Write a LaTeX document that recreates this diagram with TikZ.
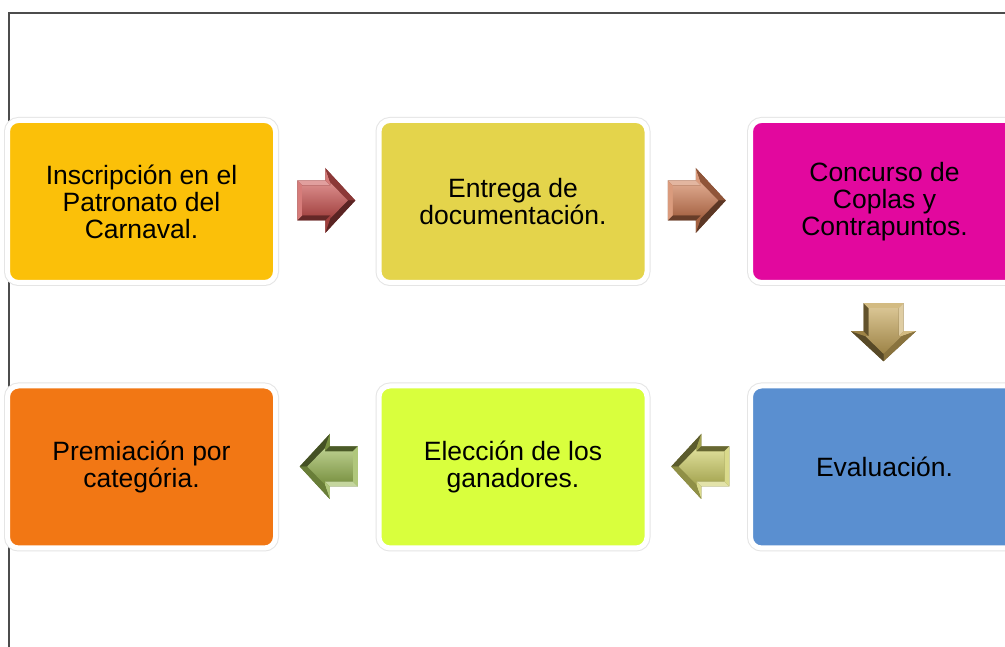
\documentclass[tikz,border=0pt]{standalone}
\usepackage{fontspec}
\setmainfont{Liberation Sans}
\usetikzlibrary{calc}
\definecolor{cA}{RGB}{251,192,9}
\definecolor{cB}{RGB}{228,212,75}
\definecolor{cC}{RGB}{226,8,158}
\definecolor{cD}{RGB}{90,143,208}
\definecolor{cE}{RGB}{217,255,61}
\definecolor{cF}{RGB}{242,119,20}
\definecolor{arA}{RGB}{200,80,78}
\definecolor{arB}{RGB}{205,122,82}
\definecolor{arC}{RGB}{196,164,88}
\definecolor{arD}{RGB}{150,180,80}
\definecolor{arE}{RGB}{205,205,100}
\newcommand{\bevarrow}[3]{%
\begin{scope}[shift={#1},rotate=#2]
\fill[#3!60!black] (-29,20)--(-1,20)--(-1,32.5)--(29,0)--(-1,-32.5)--(-1,-20)--(-29,-20)--cycle;
\fill[#3!55!white] (-29,20)--(-1,20)--(4,15)--(-24,15)--cycle;
\fill[#3!75!white] (-1,20)--(-1,32.5)--(4,18)--(4,15)--cycle;
\fill[#3!70!black] (-1,32.5)--(29,0)--(21.5,0)--(4,18)--cycle;
\fill[#3!45!black] (29,0)--(-1,-32.5)--(4,-18)--(21.5,0)--cycle;
\fill[#3!80!black] (-1,-32.5)--(-1,-20)--(4,-15)--(4,-18)--cycle;
\fill[#3!50!black] (-1,-20)--(-29,-20)--(-24,-15)--(4,-15)--cycle;
\fill[#3!75!white] (-29,-20)--(-29,20)--(-24,15)--(-24,-15)--cycle;
\shade[top color=#3!65!white, middle color=#3, bottom color=#3!80!black]
  (-24,15)--(4,15)--(4,18)--(21.5,0)--(4,-18)--(4,-15)--(-24,-15)--cycle;
\end{scope}}
\tikzset{
  procbox/.style={rectangle, rounded corners=11pt, minimum width=268pt, minimum height=162pt,
    draw=white, line width=5pt, preaction={draw=black!10, line width=7pt},
    align=center, font=\fontsize{26.5}{27}\selectfont, text=black, inner sep=0pt},
  framerule/.style={draw=black!70, line width=2pt}
}
\begin{document}
\begin{tikzpicture}[x=1pt,y=1pt]
\useasboundingbox (0,0) rectangle (1005,647);
\clip (0,0) rectangle (1005,647);
\fill[white] (0,0) rectangle (1005,647);
\coordinate (fc) at (8.5,633.5);
\coordinate (fr) at (1010,633.5);
\coordinate (fb) at (8.5,-5);
\draw[framerule] (fr) -- (fc) -- (fb);
% boxes
\node[procbox, fill=cA] (b1) at (141.5,445.5) {Inscripción en el\\Patronato del\\Carnaval.};
\node[procbox, fill=cB] (b2) at (513,445.5) {Entrega de\\documentación.};
\node[procbox, fill=cC] (b3) at (884.5,445.5) {Concurso de\\Coplas y\\Contrapuntos.};
\node[procbox, fill=cD] (b4) at (884.5,180) {Evaluación.};
\node[procbox, fill=cE] (b5) at (513,180) {Elección de los\\ganadores.};
\node[procbox, fill=cF] (b6) at (141.5,180) {Premiación por\\categória.};
% arrows
\coordinate (a1) at ($(b1.east)!0.5!(b2.west)+(-1,1)$);
\coordinate (a2) at ($(b2.east)!0.5!(b3.west)+(-2,1)$);
\coordinate (a3) at ($(b3.south)!0.5!(b4.north)+(-1,2)$);
\coordinate (a4) at ($(b5.west)!0.5!(b6.east)+(1.5,0.5)$);
\coordinate (a5) at ($(b4.west)!0.5!(b5.east)+(1.5,0.5)$);
\bevarrow{(a1)}{0}{arA}
\bevarrow{(a2)}{0}{arB}
\bevarrow{(a3)}{-90}{arC}
\bevarrow{(a4)}{180}{arD}
\bevarrow{(a5)}{180}{arE}
\end{tikzpicture}
\end{document}
